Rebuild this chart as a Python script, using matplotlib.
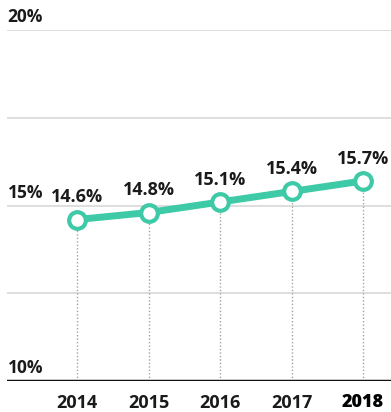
import matplotlib
matplotlib.use("Agg")
import matplotlib.pyplot as plt

years = [2014, 2015, 2016, 2017, 2018]
rates = [14.6, 14.8, 15.1, 15.4, 15.7]
value_labels = ["14.6%", "14.8%", "15.1%", "15.4%", "15.7%"]
y_ticks = [10, 15, 20]
y_tick_labels = ["10%", "15%", "20%"]
grid_levels = [12.5, 15, 17.5, 20]

TEAL = "#3ec9a7"
FONT = "Open Sans"

fig = plt.figure(figsize=(3.91, 4.12), dpi=100)
ax = fig.add_axes([7 / 391, 31 / 412, 1 - 7 / 391, 351 / 412])
ax.set_xlim(2013.02, 2018.39)
ax.set_ylim(10, 20)
ax.axis("off")

# light horizontal guides
for lvl in grid_levels:
    ax.axhline(lvl, color="#d8d8d8", lw=1.2, zorder=1)
ax.axhline(10, color="#111111", lw=2.5, zorder=3)

# dotted drop lines from each point to the baseline
for x, y in zip(years, rates):
    ax.plot([x, x], [10, y], color="#a9a0a0", lw=1, ls=(0, (1, 1.5)), zorder=2)

ax.plot(years, rates, color=TEAL, lw=5, marker="o", ms=12,
        mfc="white", mec=TEAL, mew=3, zorder=4, solid_capstyle="round")

for x, y, lab in zip(years, rates, value_labels):
    ax.text(x, y + 0.38, lab, ha="center", va="bottom", fontsize=13,
            fontweight="bold", family=FONT, color="#1a1a1a")

for t, lab in zip(y_ticks, y_tick_labels):
    ax.text(2013.03, t + 0.1, lab, ha="left", va="bottom", fontsize=12.5,
            fontweight="bold", family=FONT, color="#1a1a1a")

for x in years:
    ax.text(x, 9.62, str(x), ha="center", va="top", fontsize=13,
            fontweight="heavy" if x == 2018 else "bold", family=FONT,
            color="#000000" if x == 2018 else "#1a1a1a")

fig.savefig("out.png", dpi=100)
